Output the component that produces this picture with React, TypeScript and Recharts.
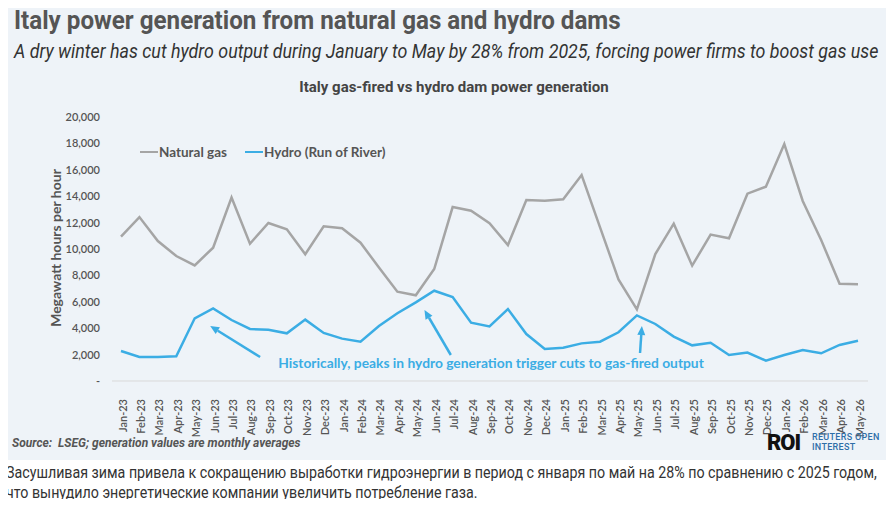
import React from 'react'
import { LineChart, Line, XAxis, YAxis, ReferenceLine } from 'recharts'

const months = [
  'Jan-23', 'Feb-23', 'Mar-23', 'Apr-23', 'May-23', 'Jun-23', 'Jul-23', 'Aug-23', 'Sep-23', 'Oct-23', 'Nov-23', 'Dec-23',
  'Jan-24', 'Feb-24', 'Mar-24', 'Apr-24', 'May-24', 'Jun-24', 'Jul-24', 'Aug-24', 'Sep-24', 'Oct-24', 'Nov-24', 'Dec-24',
  'Jan-25', 'Feb-25', 'Mar-25', 'Apr-25', 'May-25', 'Jun-25', 'Jul-25', 'Aug-25', 'Sep-25', 'Oct-25', 'Nov-25', 'Dec-25',
  'Jan-26', 'Feb-26', 'Mar-26', 'Apr-26', 'May-26',
]

const naturalGas = [
  10930, 12420, 10600, 9470, 8760, 10100, 13900, 10400, 11970, 11500, 9600, 11720,
  11570, 10480, 8590, 6770, 6490, 8480, 13180, 12900, 11950, 10300, 13710, 13660,
  13760, 15600, 11640, 7700, 5430, 9620, 11920, 8740, 11090, 10810, 14190, 14720,
  17950, 13640, 10680, 7370, 7330,
]

const hydro = [
  2270, 1820, 1820, 1870, 4750, 5500, 4620, 3940, 3890, 3610, 4650, 3640,
  3210, 2980, 4170, 5130, 5960, 6840, 6360, 4420, 4140, 5450, 3560, 2420,
  2520, 2850, 2980, 3690, 4970, 4320, 3360, 2700, 2900, 1970, 2150, 1540,
  1970, 2350, 2100, 2730, 3050,
]

const yTicks = [0, 2000, 4000, 6000, 8000, 10000, 12000, 14000, 16000, 18000, 20000]

// annotation arrows, in data units: [fromIdx, fromVal, toIdx, toVal]
const arrows = [
  [7.55, 1820, 4.84, 4170],
  [17.9, 1970, 16.47, 5380],
  [28.17, 2120, 28.27, 4170],
]

const data = months.map((m, i) => ({ idx: i, month: m, gas: naturalGas[i], hydro: hydro[i] }))

const GAS = '#a5a5a5'
const HYDRO = '#3badE4'
const TXT = '#555555'
const BG = '#eef3f8'
const FONT = 'Lato, "Noto Sans", sans-serif'
const NARROW = 'Roboto, sans-serif'

const fmt = (v: number) => (v === 0 ? '-' : v.toLocaleString('en-US'))

function MonthTick({ x, y, payload }: any) {
  return (
    <text
      x={0}
      y={0}
      transform={`translate(${x + 1},${y + 10}) rotate(-90)`}
      textAnchor="end"
      dominantBaseline="central"
      fontSize={11}
      fontWeight={600}
      fill={TXT}
      fontFamily={FONT}
    >
      {months[payload.value]}
    </text>
  )
}

function Arrow(props: any) {
  const { x1, y1, x2, y2 } = props
  const ang = Math.atan2(y2 - y1, x2 - x1)
  const len = 9
  const w = 4
  const bx = x2 - len * Math.cos(ang)
  const by = y2 - len * Math.sin(ang)
  const px = -Math.sin(ang) * w
  const py = Math.cos(ang) * w
  return (
    <g>
      <line x1={x1} y1={y1} x2={bx} y2={by} stroke={HYDRO} strokeWidth={2.5} />
      <polygon points={`${x2},${y2} ${bx + px},${by + py} ${bx - px},${by - py}`} fill={HYDRO} />
    </g>
  )
}

const legendItems = [
  { label: 'Natural gas', color: GAS },
  { label: 'Hydro (Run of River)', color: HYDRO },
]

const squeeze = (s: number): React.CSSProperties => ({
  transform: `scaleX(${s})`,
  transformOrigin: 'left center',
  whiteSpace: 'nowrap',
})

export default function App() {
  return (
    <div style={{ margin: -8, width: 894, height: 507, position: 'relative', background: '#fff', overflow: 'hidden' }}>
      <div style={{ position: 'absolute', left: 3, top: 3, width: 885, height: 457, background: BG }} />
      <div style={{ position: 'absolute', left: 14, top: 5, fontFamily: NARROW, fontWeight: 700, fontSize: 26, color: TXT, ...squeeze(0.93) }}>
        Italy power generation from natural gas and hydro dams
      </div>
      <div style={{ position: 'absolute', left: 14, top: 39, fontFamily: NARROW, fontStyle: 'italic', fontSize: 20, color: '#333', ...squeeze(0.893) }}>
        A dry winter has cut hydro output during January to May by 28% from 2025, forcing power firms to boost gas use
      </div>
      <div style={{ position: 'absolute', left: 0, width: 908, top: 78, textAlign: 'center', fontFamily: NARROW, fontWeight: 700, fontSize: 15, color: '#444' }}>
        Italy gas-fired vs hydro dam power generation
      </div>
      <div
        style={{
          position: 'absolute', left: 55, top: 248, transform: 'translate(-50%,-50%) rotate(-90deg)',
          fontFamily: FONT, fontWeight: 700, fontSize: 14, color: TXT, whiteSpace: 'nowrap',
        }}
      >
        Megawatt hours per hour
      </div>
      <LineChart
        width={894}
        height={460}
        data={data}
        margin={{ top: 117, right: 26, bottom: 0, left: 0 }}
        style={{ position: 'absolute', left: 0, top: 0 }}
      >
        <XAxis
          dataKey="idx"
          type="number"
          domain={[0, 40]}
          ticks={months.map((_, i) => i)}
          interval={0}
          padding={{ left: 9, right: 10 }}
          tick={<MonthTick />}
          tickLine={false}
          axisLine={{ stroke: '#d9d9d9' }}
          height={79}
        />
        <YAxis
          domain={[0, 20000]}
          ticks={yTicks}
          tickFormatter={fmt}
          width={112}
          axisLine={false}
          tickLine={false}
          tickSize={0}
          tickMargin={12}
          tick={{ fontSize: 11, fontWeight: 600, fill: TXT, fontFamily: FONT }}
        />
        <Line dataKey="gas" name="Natural gas" stroke={GAS} strokeWidth={2.5} dot={false} isAnimationActive={false} />
        <Line dataKey="hydro" name="Hydro (Run of River)" stroke={HYDRO} strokeWidth={2.5} dot={false} isAnimationActive={false} />
        {arrows.map((a, i) => (
          <ReferenceLine
            key={i}
            segment={[{ x: a[0], y: a[1] }, { x: a[2], y: a[3] }]}
            shape={<Arrow />}
            ifOverflow="visible"
          />
        ))}
      </LineChart>
      <div style={{ position: 'absolute', left: 140, top: 144, display: 'flex', gap: 18, fontFamily: FONT, fontWeight: 700, fontSize: 13.5, color: TXT }}>
        {legendItems.map((it) => (
          <div key={it.label} style={{ display: 'flex', alignItems: 'center' }}>
            <span style={{ display: 'inline-block', width: 18, height: 2.5, background: it.color, marginRight: 1 }} />
            {it.label}
          </div>
        ))}
      </div>
      <div style={{ position: 'absolute', left: 0, width: 982, top: 354, textAlign: 'center', fontFamily: FONT, fontWeight: 700, fontSize: 13.8, color: HYDRO, whiteSpace: 'nowrap' }}>
        Historically, peaks in hydro generation trigger cuts to gas-fired output
      </div>
      <div style={{ position: 'absolute', left: 12, top: 436, fontFamily: NARROW, fontWeight: 700, fontStyle: 'italic', fontSize: 12, color: TXT }}>
        Source:&nbsp; LSEG; generation values are monthly averages
      </div>
      <div style={{ position: 'absolute', left: 767, top: 430, fontFamily: 'Roboto, sans-serif', fontWeight: 900, fontSize: 22, color: '#111', letterSpacing: -1 }}>
        ROI
      </div>
      <div style={{ position: 'absolute', left: 812, top: 432, fontFamily: 'Roboto, sans-serif', fontWeight: 500, fontSize: 9, lineHeight: '10px', color: '#2f6ea8', letterSpacing: 0.3 }}>
        REUTERS OPEN<br />INTEREST
      </div>
      <div style={{ position: 'absolute', left: 6, top: 463, fontFamily: NARROW, fontSize: 16, lineHeight: '20px', color: '#333', ...squeeze(0.89) }}>
        Засушливая зима привела к сокращению выработки гидроэнергии в период с января по май на 28% по сравнению с 2025 годом,
        <br />
        что вынудило энергетические компании увеличить потребление газа.
      </div>
    </div>
  )
}
